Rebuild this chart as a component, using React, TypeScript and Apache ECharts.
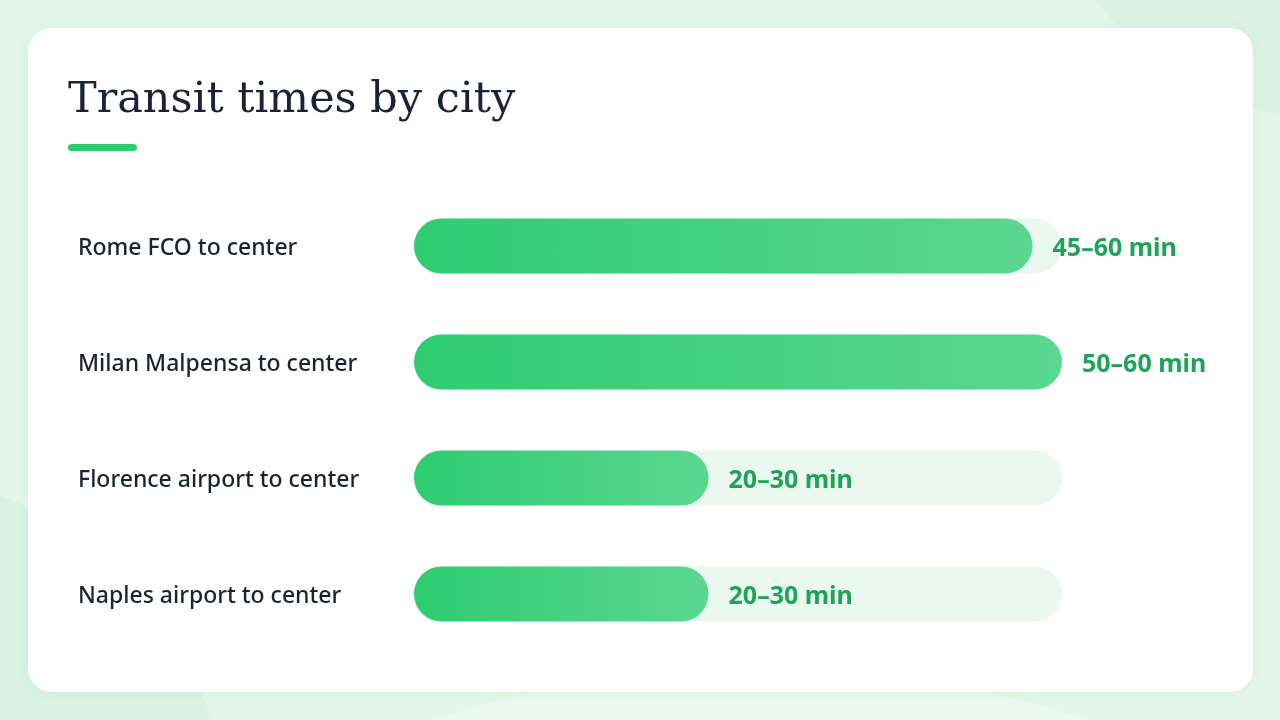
import React, { useEffect, useRef } from "react";
import * as echarts from "echarts";

const categories = [
  "Rome FCO to center",
  "Milan Malpensa to center",
  "Florence airport to center",
  "Naples airport to center",
];
const rangeLabels = ["45–60 min", "50–60 min", "20–30 min", "20–30 min"];
const barValues = [52.5, 55, 25, 25];
const trackValues = [55, 55, 55, 55];
const axisMax = 55;

export default function App() {
  const ref = useRef<HTMLDivElement>(null);
  useEffect(() => {
    const chart = echarts.init(ref.current!, null, { renderer: "svg" });
    chart.setOption({
      animation: false,
      graphic: [
        { type: "rect", z: -10, silent: true, shape: { x: 0, y: 0, width: 1280, height: 720 }, style: { fill: "#e4f6ea" } },
        { type: "circle", z: -9, silent: true, shape: { cx: 1380, cy: -250, r: 380 }, style: { fill: "#dcf3e4" } },
        { type: "ellipse", z: -9, silent: true, shape: { cx: 760, cy: 1000, rx: 620, ry: 330 }, style: { fill: "#eaf8ef" } },
        { type: "circle", z: -8, silent: true, shape: { cx: -100, cy: 800, r: 320 }, style: { fill: "#d9f2e2" } },
        {
          type: "rect", z: -5, silent: true,
          shape: { x: 28, y: 28, width: 1225, height: 664, r: 24 },
          style: { fill: "#ffffff", shadowBlur: 12, shadowColor: "rgba(30,120,70,0.06)" },
        },
        {
          type: "text", left: 68, top: 75, silent: true,
          style: { text: "Transit times by city", font: "43px 'DejaVu Serif', serif", fill: "#1a2238" },
        },
        {
          type: "rect", silent: true,
          shape: { x: 68, y: 144, width: 69, height: 7, r: 3.5 },
          style: { fill: "#2ecc71" },
        },
      ],
      grid: { left: 414, right: 218, top: 188, height: 464, containLabel: false },
      xAxis: {
        type: "value", min: 0, max: axisMax,
        show: false,
      },
      yAxis: {
        type: "category", data: categories, inverse: true,
        axisLine: { show: false }, axisTick: { show: false },
        axisLabel: {
          align: "left", margin: 336, color: "#1b2235",
          fontFamily: "'Noto Sans', sans-serif", fontSize: 23, fontWeight: 500,
        },
      },
      series: [
        {
          type: "bar", data: trackValues, barWidth: 55, z: 1, silent: true,
          itemStyle: { color: "#ebf8f0", borderRadius: 27.5 },
        },
        {
          type: "bar", data: barValues, barWidth: 55, barGap: "-100%", z: 2,
          itemStyle: {
            borderRadius: 27.5,
            color: new echarts.graphic.LinearGradient(0, 0, 1, 0, [
              { offset: 0, color: "#2ecc71" },
              { offset: 1, color: "#5bd790" },
            ]),
          },
          label: {
            show: true, position: "right", distance: 20,
            formatter: (p: any) => rangeLabels[p.dataIndex],
            color: "#1fa35a", fontFamily: "'Noto Sans', sans-serif", fontSize: 25, fontWeight: "bold",
          },
        },
      ],
    });
    return () => chart.dispose();
  }, []);
  return <div ref={ref} style={{ position: "fixed", left: 0, top: 0, width: 1280, height: 720 }} />;
}
